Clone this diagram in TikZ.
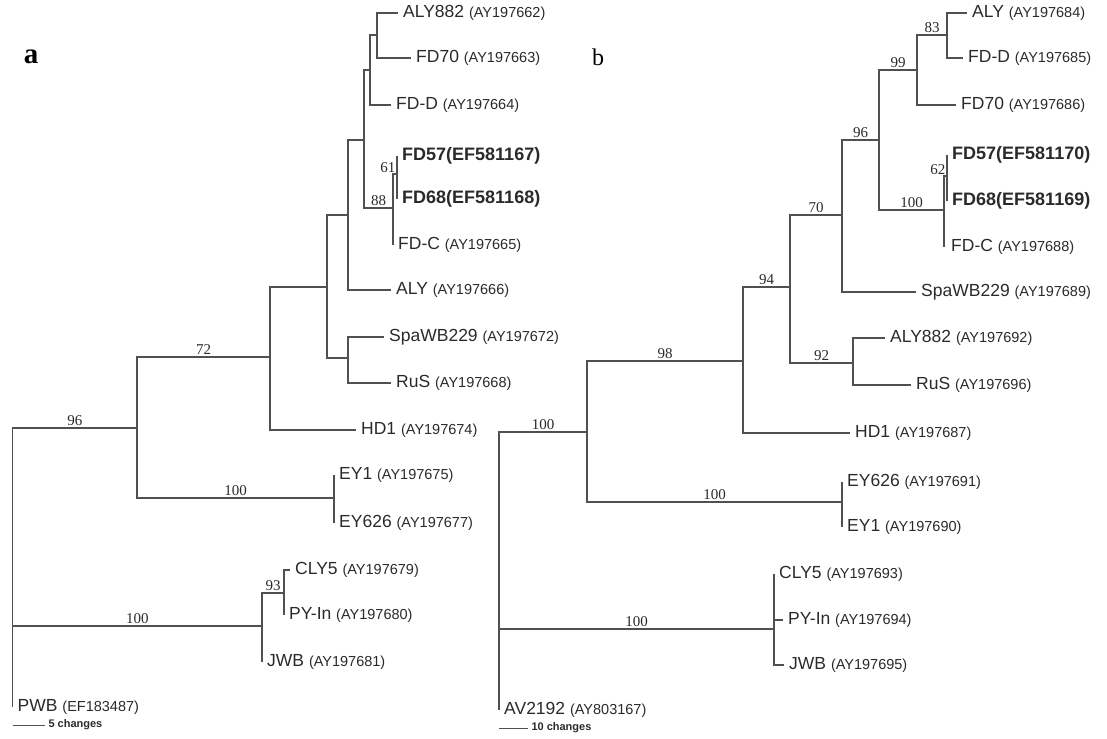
\documentclass[tikz,border=0pt]{standalone}
\usepackage{fontspec}
\setmainfont{Liberation Serif}
\setsansfont{Liberation Sans}
\usetikzlibrary{positioning}

\definecolor{treeline}{HTML}{505050}
\definecolor{tiptext}{HTML}{2A2A2A}
\newcommand{\taxlab}[2]{#1 {\fontsize{14.5}{17}\selectfont(#2)}}

\begin{document}
\begin{tikzpicture}[
    x=1pt, y=-1pt,
    branch/.style={draw=treeline, line width=1.2pt},
    tip/.style={anchor=west, inner xsep=5pt, inner ysep=0pt, text=tiptext,
        font=\sffamily\fontsize{17.5}{19}\selectfont},
    boldtip/.style={tip, font=\sffamily\bfseries\fontsize{18}{20}\selectfont},
    bs/.style={inner sep=1.5pt, text=tiptext, font=\fontsize{15}{16}\selectfont},
    lab/.style={bs, pos=0.75, above},
    panel/.style={inner sep=0pt, font=\fontsize{24}{27}\selectfont},
    scal/.style={inner sep=3pt, text=tiptext, font=\sffamily\bfseries\fontsize{11}{12}\selectfont}
]
\useasboundingbox (0,0) rectangle (1107,738);

\node[panel, font=\bfseries\fontsize{29}{32}\selectfont] (pa) at (31,57) {a};
\node[panel] (pb) at (598,57) {b};

\coordinate (aR) at (12.5,626);
\coordinate (a96) at (137,428);
\coordinate (a72) at (270,357);
\coordinate (a305) at (327,287);
\coordinate (a325) at (348,215);
\coordinate (a340) at (364,140);
\coordinate (a347) at (370,70);
\coordinate (a353) at (377,35);
\coordinate (a88) at (393,208);
\coordinate (a61) at (397,174);
\coordinate (aSR) at (348,358);
\coordinate (aEY) at (334,498);
\coordinate (aJ) at (262,626);
\coordinate (a93) at (284,593);

\node[tip] (aALY882) at (398,13) {\taxlab{ALY882}{AY197662}};
\node[tip] (aFD70) at (411,58) {\taxlab{FD70}{AY197663}};
\node[tip] (aFDD) at (391,105) {\taxlab{FD-D}{AY197664}};
\node[boldtip] (aFD57) at (397,156) {FD57(EF581167)};
\node[boldtip] (aFD68) at (397,199) {FD68(EF581168)};
\node[tip] (aFDC) at (393,245) {\taxlab{FD-C}{AY197665}};
\node[tip] (aALY) at (391,290) {\taxlab{ALY}{AY197666}};
\node[tip] (aSpa) at (384,337) {\taxlab{SpaWB229}{AY197672}};
\node[tip] (aRuS) at (391,383) {\taxlab{RuS}{AY197668}};
\node[tip] (aHD1) at (356,430) {\taxlab{HD1}{AY197674}};
\node[tip] (aEY1) at (334,475) {\taxlab{EY1}{AY197675}};
\node[tip] (aEY626) at (334,523) {\taxlab{EY626}{AY197677}};
\node[tip] (aCLY5) at (290,570) {\taxlab{CLY5}{AY197679}};
\node[tip] (aPY) at (284,615) {\taxlab{PY-In}{AY197680}};
\node[tip] (aJWB) at (262,662) {\taxlab{JWB}{AY197681}};
\node[tip] (aPWB) at (12.5,707) {\taxlab{PWB}{EF183487}};

\draw[branch] (aR) |- node[lab] {96} (a96);
\draw[branch] (aR) |- node[lab] {100} (aJ);
\draw[branch] (aR) |- (aPWB.west);
\draw[branch] (a96) |- node[lab] {72} (a72);
\draw[branch] (a96) |- node[lab] {100} (aEY);
\draw[branch] (a72) |- (a305);
\draw[branch] (a72) |- (aHD1.west);
\draw[branch] (a305) |- (a325);
\draw[branch] (a305) |- (aSR);
\draw[branch] (a325) |- (a340);
\draw[branch] (a325) |- (aALY.west);
\draw[branch] (a340) |- (a347);
\draw[branch] (a340) |- node[lab] {88} (a88);
\draw[branch] (a347) |- (a353);
\draw[branch] (a347) |- (aFDD.west);
\draw[branch] (a353) |- (aALY882.west);
\draw[branch] (a353) |- (aFD70.west);
\draw[branch] (a88) |- (a61);
\draw[branch] (a88) |- (aFDC.west);
\draw[branch] (a61) |- (aFD57.west);
\draw[branch] (a61) |- (aFD68.west);
\node[bs, anchor=south east] at (a61) {61};
\draw[branch] (aSR) |- (aSpa.west);
\draw[branch] (aSR) |- (aRuS.west);
\draw[branch] (aEY) |- (aEY1.west);
\draw[branch] (aEY) |- (aEY626.west);
\draw[branch] (aJ) |- node[lab] {93} (a93);
\draw[branch] (aJ) |- (aJWB.west);
\draw[branch] (a93) |- (aCLY5.west);
\draw[branch] (a93) |- (aPY.west);

\coordinate (aS1) at (12.5,725);
\coordinate (aS2) at (45,725);
\draw[branch, line width=1pt] (aS1) -- (aS2) node[scal, right] {5 changes};

\coordinate (bR) at (499,629);
\coordinate (b100) at (587,432);
\coordinate (b98) at (743,361);
\coordinate (b94) at (790,287);
\coordinate (b70) at (842,215);
\coordinate (b96) at (879,140);
\coordinate (b99) at (917,70);
\coordinate (b83) at (947,35);
\coordinate (bC100) at (944,210);
\coordinate (b62) at (947,176);
\coordinate (b92) at (853,363);
\coordinate (bEY) at (842,502);
\coordinate (bCL) at (774,629);

\node[tip] (bALY) at (967,13) {\taxlab{ALY}{AY197684}};
\node[tip] (bFDD) at (963,58) {\taxlab{FD-D}{AY197685}};
\node[tip] (bFD70) at (956,105) {\taxlab{FD70}{AY197686}};
\node[boldtip] (bFD57) at (947,155) {FD57(EF581170)};
\node[boldtip] (bFD68) at (947,201) {FD68(EF581169)};
\node[tip, inner xsep=7pt] (bFDC) at (944,247) {\taxlab{FD-C}{AY197688}};
\node[tip] (bSpa) at (916,292) {\taxlab{SpaWB229}{AY197689}};
\node[tip] (bALY882) at (885,338) {\taxlab{ALY882}{AY197692}};
\node[tip] (bRuS) at (911,385) {\taxlab{RuS}{AY197696}};
\node[tip] (bHD1) at (850,433) {\taxlab{HD1}{AY197687}};
\node[tip] (bEY626) at (842,482) {\taxlab{EY626}{AY197691}};
\node[tip] (bEY1) at (842,527) {\taxlab{EY1}{AY197690}};
\node[tip] (bCLY5) at (774,574) {\taxlab{CLY5}{AY197693}};
\node[tip] (bPY) at (783,620) {\taxlab{PY-In}{AY197694}};
\node[tip] (bJWB) at (784,665) {\taxlab{JWB}{AY197695}};
\node[tip] (bAV) at (499,710) {\taxlab{AV2192}{AY803167}};

\draw[branch] (bR) |- node[lab] {100} (b100);
\draw[branch] (bR) |- node[lab] {100} (bCL);
\draw[branch] (bR) |- (bAV.west);
\draw[branch] (b100) |- node[lab] {98} (b98);
\draw[branch] (b100) |- node[lab] {100} (bEY);
\draw[branch] (b98) |- node[lab] {94} (b94);
\draw[branch] (b98) |- (bHD1.west);
\draw[branch] (b94) |- node[lab] {70} (b70);
\draw[branch] (b94) |- node[lab] {92} (b92);
\draw[branch] (b70) |- node[lab] {96} (b96);
\draw[branch] (b70) |- (bSpa.west);
\draw[branch] (b96) |- node[lab] {99} (b99);
\draw[branch] (b96) |- node[lab] {100} (bC100);
\draw[branch] (b99) |- node[lab] {83} (b83);
\draw[branch] (b99) |- (bFD70.west);
\draw[branch] (b83) |- (bALY.west);
\draw[branch] (b83) |- (bFDD.west);
\draw[branch] (bC100) |- (b62);
\draw[branch] (bC100) |- (bFDC.west);
\draw[branch] (b62) |- (bFD57.west);
\draw[branch, line width=2pt] (b62) |- (bFD68.west);
\node[bs, anchor=south east] at (b62) {62};
\draw[branch] (b92) |- (bALY882.west);
\draw[branch] (b92) |- (bRuS.west);
\draw[branch] (bEY) |- (bEY626.west);
\draw[branch] (bEY) |- (bEY1.west);
\draw[branch] (bCL) |- (bCLY5.west);
\draw[branch] (bCL) |- (bPY.west);
\draw[branch] (bCL) |- (bJWB.west);

\coordinate (bS1) at (499,728);
\coordinate (bS2) at (528,728);
\draw[branch, line width=1pt] (bS1) -- (bS2) node[scal, right] {10 changes};
\end{tikzpicture}
\end{document}
